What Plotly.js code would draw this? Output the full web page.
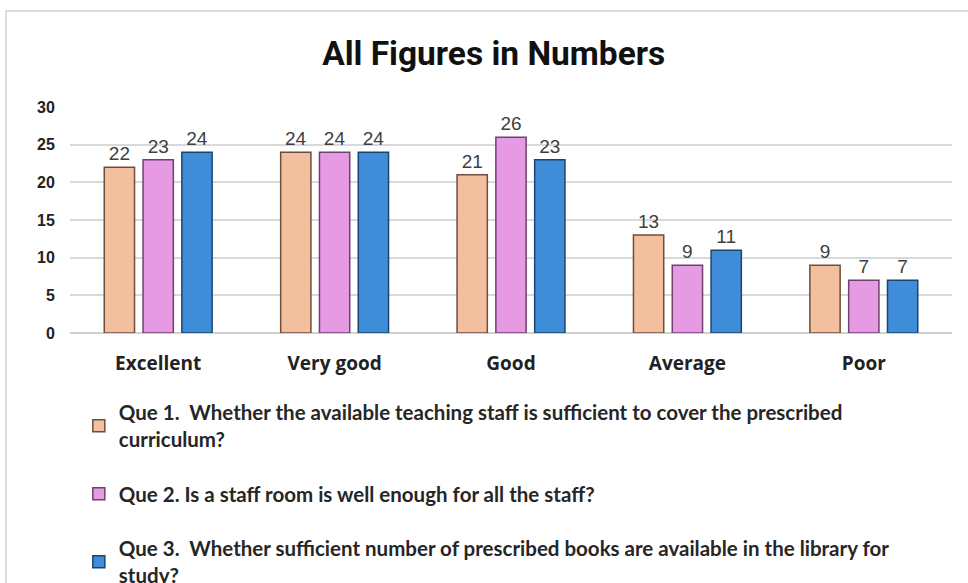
<!DOCTYPE html>
<html>
<head>
<meta charset="utf-8">
<script src="https://cdn.plot.ly/plotly-3.0.1.min.js"></script>
<style>
html,body{margin:0;padding:0;background:#fff;overflow:hidden;}
#frame{position:absolute;left:5px;top:10px;width:980px;height:680px;border-left:2px solid #dcdcdc;border-top:2px solid #dcdcdc;}
#chart{position:absolute;left:0;top:0;width:968px;height:660px;}
</style>
</head>
<body>
<div id="frame"></div>
<div id="chart"></div>
<script>
const categories = ["Excellent", "Very good", "Good", "Average", "Poor"];
const que1 = [22, 24, 21, 13, 9];
const que2 = [23, 24, 26, 9, 7];
const que3 = [24, 24, 23, 11, 7];
const seriesNames = [
  "Que 1.  Whether the available teaching staff is sufficient to cover the prescribed<br>curriculum?",
  "Que 2. Is a staff room is well enough for all the staff?",
  "Que 3.  Whether sufficient number of prescribed books are available in the library for<br>study?"
];
const yTicks = [0, 5, 10, 15, 20, 25, 30];

const fills = ["#F2BF9F", "#E59AE3", "#3F8DD9"];
const edges = ["#6e4e3b", "#6e426c", "#1b456e"];
const series = [que1, que2, que3];

const data = series.map((vals, i) => ({
  type: "bar",
  x: categories,
  y: vals,
  name: seriesNames[i],
  legendgroup: "g" + i,
  text: vals.map(String),
  textposition: "outside",
  cliponaxis: false,
  textfont: {family: "Liberation Sans, Arial, sans-serif", size: 19, color: "#404040"},
  marker: {color: fills[i], line: {color: edges[i], width: 1.5}},
  hoverinfo: "x+y"
}));

const layout = {
  width: 968,
  height: 660,
  margin: {l: 70, r: 16, t: 107, b: 327},
  paper_bgcolor: "rgba(0,0,0,0)",
  plot_bgcolor: "rgba(0,0,0,0)",
  title: {
    text: "<b>All Figures in Numbers</b>",
    font: {family: "Roboto, sans-serif", size: 33.5, color: "#111"},
    x: 0.51, xanchor: "center", y: 55, yref: "container", yanchor: "middle"
  },
  barmode: "group",
  bargap: 0.34,
  bargroupgap: 0.22,
  xaxis: {
    tickfont: {family: "Open Sans, sans-serif", size: 19, color: "#222", weight: "bold"},
    ticks: "outside", ticklen: 13, tickcolor: "rgba(0,0,0,0)",
    showline: false, showgrid: false
  },
  yaxis: {
    range: [0, 30],
    tickvals: yTicks,
    tickfont: {family: "Liberation Sans, Arial, sans-serif", size: 16, color: "#222", weight: "bold"},
    ticks: "outside", ticklen: 11, tickcolor: "rgba(0,0,0,0)",
    showgrid: true, gridcolor: "#d9d9d9", gridwidth: 1.5,
    zeroline: true, zerolinecolor: "#d0d0d0", zerolinewidth: 1.5
  },
  legend: {
    orientation: "v",
    x: 0.01, xanchor: "left",
    y: -0.2635, yanchor: "top",
    font: {family: "Lato, sans-serif", size: 20.5, color: "#262626", weight: "bold"},
    tracegroupgap: 25,
    itemwidth: 14,
    bgcolor: "rgba(0,0,0,0)"
  },
  showlegend: true
};

Plotly.newPlot("chart", data, layout, {displayModeBar: false, responsive: false});
</script>
</body>
</html>
